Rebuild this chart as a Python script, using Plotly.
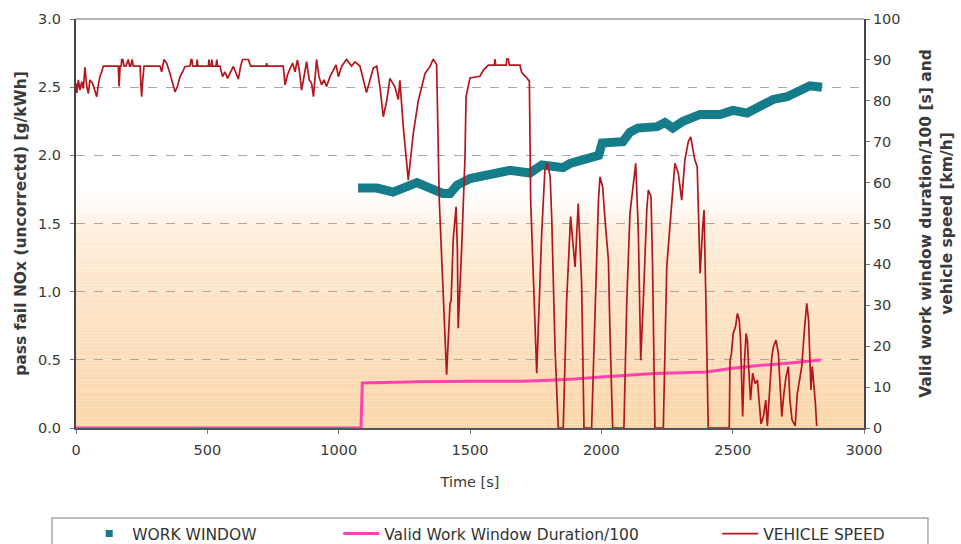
import plotly.graph_objects as go

# ---- data -----------------------------------------------------------------
# Work-window pass/fail NOx [g/kWh] versus time [s]
work_time = [1074, 1146, 1207, 1260, 1298, 1348, 1397, 1424, 1450, 1500, 1565,
             1614, 1652, 1728, 1774, 1812, 1854, 1881, 1945, 1976, 1990, 2003,
             2044, 2082, 2109, 2139, 2212, 2242, 2272, 2311, 2376, 2452, 2501,
             2555, 2604, 2654, 2707, 2756, 2794, 2840]
work_nox = [1.76, 1.76, 1.73, 1.77, 1.80, 1.76, 1.72, 1.72, 1.78, 1.83, 1.86,
            1.88, 1.89, 1.87, 1.93, 1.92, 1.91, 1.94, 1.97, 1.98, 2.00, 2.09,
            2.09, 2.10, 2.17, 2.20, 2.21, 2.24, 2.20, 2.25, 2.30, 2.30, 2.33,
            2.31, 2.36, 2.41, 2.43, 2.48, 2.51, 2.50]

# Valid work window duration / 100 [s]
duration_time = [0, 1085, 1090, 1300, 1500, 1700, 1800, 1900, 2000, 2100, 2200,
                 2300, 2400, 2500, 2600, 2700, 2800, 2835]
duration_val = [0, 0, 11.0, 11.3, 11.4, 11.4, 11.7, 12.0, 12.5, 12.9, 13.3,
                13.5, 13.7, 14.6, 15.3, 15.8, 16.3, 16.6]

# Vehicle speed [km/h]
speed_time = [0, 3, 9, 15, 22, 28, 34, 41, 47, 53, 63, 72, 79, 85, 91, 98, 104,
              161, 164, 168, 172, 174, 178, 183, 190, 199, 204, 208, 214, 218,
              244, 247, 250, 254, 259, 320, 326, 335, 345, 354, 364, 377, 386,
              396, 406, 415, 434, 438, 441, 444, 459, 461, 464, 504, 506, 509,
              515, 517, 520, 533, 536, 539, 548, 558, 567, 577, 586, 599, 612,
              618, 627, 634, 656, 665, 724, 726, 728, 789, 796, 805, 815, 825,
              834, 843, 850, 859, 868, 878, 888, 897, 904, 911, 916, 925, 935,
              944, 954, 967, 980, 990, 999, 1011, 1024, 1030, 1049, 1062, 1081,
              1094, 1106, 1119, 1132, 1145, 1157, 1170, 1183, 1195, 1214, 1227,
              1233, 1246, 1265, 1284, 1303, 1329, 1348, 1360, 1373, 1383, 1411,
              1424, 1428, 1436, 1447, 1452, 1455, 1468, 1481, 1485, 1500, 1538,
              1551, 1570, 1593, 1595, 1598, 1638, 1640, 1646, 1650, 1690, 1697,
              1716, 1726, 1731, 1754, 1773, 1785, 1794, 1805, 1811, 1824, 1836,
              1855, 1868, 1883, 1900, 1912, 1925, 1934, 1963, 1976, 1989, 1995,
              2005, 2014, 2027, 2033, 2043, 2086, 2097, 2109, 2122, 2131, 2141,
              2150, 2160, 2173, 2179, 2189, 2195, 2200, 2204, 2236, 2249, 2261,
              2271, 2280, 2293, 2306, 2318, 2331, 2340, 2356, 2365, 2372, 2376,
              2386, 2391, 2398, 2407, 2487, 2490, 2495, 2502, 2511, 2518, 2525,
              2530, 2538, 2544, 2551, 2556, 2562, 2568, 2576, 2585, 2594, 2601,
              2608, 2617, 2626, 2632, 2642, 2649, 2655, 2665, 2674, 2680, 2687,
              2695, 2703, 2712, 2718, 2726, 2738, 2746, 2754, 2763, 2772, 2782,
              2789, 2794, 2798, 2803, 2810, 2815, 2820]
speed_kmh = [84.3, 81.9, 85.1, 82.6, 84.7, 83.0, 88.2, 83.5, 81.8, 85.1, 84.3,
             82.6, 81.0, 83.9, 85.9, 87.1, 88.5, 88.5, 83.5, 88.5, 88.5, 90.1,
             90.1, 88.5, 88.5, 90.1, 88.5, 88.5, 90.1, 88.5, 88.5, 84.0, 81.0,
             85.0, 88.5, 88.5, 87.1, 90.1, 89.2, 87.5, 85.1, 82.2, 83.5, 85.9,
             87.1, 88.4, 88.5, 90.1, 90.1, 88.5, 88.5, 90.1, 88.5, 88.5, 90.1,
             88.5, 88.5, 90.1, 88.5, 88.5, 90.1, 88.5, 88.5, 85.9, 87.1, 85.5,
             86.7, 88.4, 86.3, 85.3, 88.5, 90.1, 90.1, 88.5, 88.5, 89.2, 88.5,
             88.5, 83.9, 86.3, 87.9, 89.2, 87.1, 90.0, 87.5, 82.6, 85.9, 89.6,
             85.1, 84.3, 81.0, 86.7, 90.1, 85.9, 83.9, 85.1, 83.5, 85.9, 87.5,
             88.8, 85.9, 88.4, 89.6, 90.1, 88.5, 89.5, 88.5, 85.0, 82.0, 85.0,
             88.0, 88.5, 83.4, 76.1, 80.0, 85.5, 83.4, 80.3, 85.0, 73.7, 60.6,
             72.0, 80.0, 86.7, 88.4, 90.2, 88.8, 55.7, 13.0, 30.5, 31.0, 46.0,
             54.1, 43.5, 24.4, 43.5, 66.3, 81.0, 85.6, 86.0, 87.5, 88.7, 88.7,
             90.2, 88.7, 88.7, 90.2, 90.2, 88.7, 88.7, 86.9, 85.6, 84.8, 55.7,
             13.4, 47.6, 63.0, 64.7, 61.6, 51.7, 19.0, 0.0, 0.0, 31.3, 51.7,
             39.4, 54.9, 35.4, 0.0, 0.0, 31.3, 55.7, 61.4, 59.0, 50.9, 41.0,
             23.0, 0.0, 0.0, 31.3, 52.5, 59.8, 64.7, 47.6, 16.6, 31.3, 53.3,
             58.2, 56.6, 40.0, 20.0, 0.0, 0.0, 39.4, 49.2, 56.6, 64.7, 62.3,
             55.7, 65.5, 70.0, 71.2, 65.5, 63.9, 43.5, 37.8, 49.2, 53.3, 31.3,
             0.0, 0.0, 16.6, 18.0, 23.1, 24.8, 28.0, 26.4, 21.5, 2.8, 15.0,
             23.1, 21.5, 13.4, 6.8, 13.4, 10.9, 11.7, 5.0, 1.0, 2.8, 6.8, 0.5,
             10.9, 17.4, 19.8, 21.5, 18.2, 10.9, 2.8, 8.4, 12.5, 15.0, 6.8,
             2.0, 0.5, 8.4, 11.7, 15.0, 23.1, 30.5, 26.4, 16.6, 9.3, 15.0,
             10.0, 6.0, 0.5]

# Axis setup
x_range = [0, 3000]
nox_range = [0, 3.0]
right_range = [0, 100]

# ---- styles ---------------------------------------------------------------
TEAL = "#157c89"
PINK = "#ff42b0"
RED = "#b3161c"
FONT = "DejaVu Sans"

fig = go.Figure()

# Legend marker for the work-window series (drawn as a thick band below)
fig.add_trace(go.Scatter(
    x=[None], y=[None], mode="markers", name="WORK WINDOW",
    marker=dict(symbol="square", size=7, color=TEAL),
    legendwidth=190, yaxis="y",
))
fig.add_trace(go.Scatter(
    x=work_time, y=work_nox, mode="lines", name="WORK WINDOW",
    line=dict(color=TEAL, width=9), showlegend=False, yaxis="y",
))
fig.add_trace(go.Scatter(
    x=duration_time, y=duration_val, mode="lines",
    name="Valid Work Window Duration/100",
    line=dict(color=PINK, width=3), legendwidth=317, yaxis="y2",
))
fig.add_trace(go.Scatter(
    x=speed_time, y=speed_kmh, mode="lines", name="VEHICLE SPEED",
    line=dict(color=RED, width=1.7), yaxis="y2",
))

# Warm vertical gradient behind the plot area (white above ~1.75 g/kWh)
stops = [(0.0, (251, 214, 170)), (0.5, (252, 221, 186)), (1.0, (253, 229, 201)),
         (1.45, (254, 238, 219)), (1.6, (255, 249, 242)), (1.75, (255, 255, 255))]
n_bands = 70
top = stops[-1][0]
shapes = []
for i in range(n_bands):
    y0 = top * i / n_bands
    y1 = top * (i + 1) / n_bands
    ym = (y0 + y1) / 2
    for (a, ca), (b, cb) in zip(stops[:-1], stops[1:]):
        if a <= ym <= b:
            f = (ym - a) / (b - a)
            c = tuple(round(ca[k] + (cb[k] - ca[k]) * f) for k in range(3))
            break
    shapes.append(dict(type="rect", xref="paper", yref="y", x0=0, x1=1,
                       y0=y0, y1=y1, layer="below", line=dict(width=0),
                       fillcolor=f"rgb{c}"))

# top border of the plot frame
shapes.append(dict(type="line", xref="paper", yref="paper", x0=0, x1=1,
                   y0=1, y1=1, line=dict(color="#9a9a9a", width=1.5)))
# frame around the legend
shapes.append(dict(type="rect", xref="paper", yref="paper",
                   x0=-0.0305, x1=1.0812, y0=-0.220, y1=-0.32,
                   line=dict(color="#a8a8a8", width=1.5),
                   fillcolor="rgba(0,0,0,0)", layer="above"))

fig.update_layout(
    width=961, height=544,
    margin=dict(l=76, r=97, t=19, b=116, autoexpand=False),
    paper_bgcolor="white", plot_bgcolor="white",
    font=dict(family=FONT, size=14.5, color="#3a3a3a"),
    shapes=shapes,
    showlegend=True,
    legend=dict(orientation="h", x=-0.001, y=-0.2176, xanchor="left",
                yanchor="top", indentation=11,
                font=dict(family=FONT, size=15.5, color="#333333"),
                bgcolor="rgba(0,0,0,0)", itemwidth=36, tracegroupgap=0),
    xaxis=dict(
        range=x_range, dtick=500, tick0=0, showgrid=False, zeroline=False,
        showline=True, linecolor="#555555", linewidth=1.5,
        ticks="outside", ticklen=4, tickcolor="#777777",
        ticklabelstandoff=4,
        title=dict(text="Time [s]", font=dict(size=14.5), standoff=20),
        tickfont=dict(size=14.5),
    ),
    yaxis=dict(
        range=nox_range, dtick=0.5, tick0=0, tickformat=".1f",
        showgrid=True, gridcolor="#a8a8a8", griddash="dash", gridwidth=1,
        zeroline=False, showline=True, linecolor="#444444", linewidth=2,
        ticks="outside", ticklen=4, tickcolor="#777777",
        ticklabelstandoff=6,
        title=dict(text="<b>pass fail NOx (uncorrectd) [g/kWh]</b>",
                   font=dict(size=15.5), standoff=8),
        tickfont=dict(size=14.5),
    ),
    yaxis2=dict(
        range=right_range, dtick=10, tick0=0, overlaying="y", side="right",
        showgrid=False, zeroline=False, showline=True, linecolor="#444444",
        linewidth=2, ticks="outside", ticklen=4, tickcolor="#777777",
        title=dict(text="<b>Valid work window duration/100 [s] and<br>"
                        "vehicle speed [km/h]</b>",
                   font=dict(size=15.5), standoff=21),
        tickfont=dict(size=14.5),
    ),
)

fig.write_html("out.html")
